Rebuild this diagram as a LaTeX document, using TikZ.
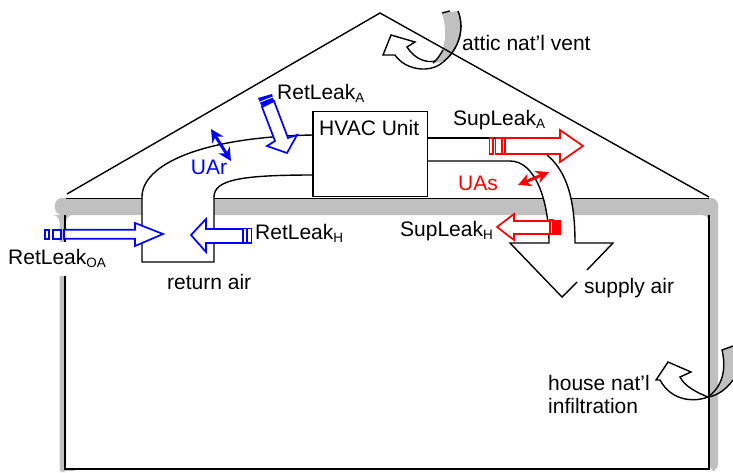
\documentclass[tikz,border=0pt]{standalone}
\usepackage{fontspec}
\setmainfont{Liberation Sans}
\usetikzlibrary{arrows.meta}
\definecolor{wallgray}{RGB}{192,192,192}
\newcommand{\lbl}[1]{\fontsize{21}{24}\selectfont #1}
\newcommand{\subs}[1]{{\fontsize{13.5}{15}\selectfont\raisebox{-3pt}{#1}}}
\tikzset{
  line/.style={draw=black,line width=1.4pt},
  duct/.style={fill=white,draw=none},
  blueleak/.style={draw=blue,fill=white,line width=1.7pt,line join=miter},
  redleak/.style={draw=red,fill=white,line width=1.7pt,line join=miter},
  dblblue/.style={draw=blue,line width=3pt,{Stealth[length=13pt,width=13pt]}-{Stealth[length=13pt,width=13pt]}},
  dblred/.style={draw=red,line width=3pt,{Stealth[length=13pt,width=13pt]}-{Stealth[length=13pt,width=13pt]}},
  lab/.style={anchor=base west,inner sep=0pt,font=\lbl},
}
\begin{document}
\begin{tikzpicture}[x=1pt,y=-1pt]
\useasboundingbox (0,0) rectangle (733,472);
% wall
\fill[wallgray,rounded corners=7pt] (59.5,472) -- (59.5,215) -- (55,215) -- (55,198) -- (718,198) -- (718,471) -- (709,471) -- (709,215) -- (66,215) -- (66,472) -- cycle;
\fill[wallgray] (59.5,465) rectangle (66,471);
\fill[wallgray] (59.5,213) rectangle (66,240);
\fill[wallgray] (66,469) rectangle (75,471);
\draw[line,line width=1pt] (66,198) -- (709,198);
\draw[line] (65,215) -- (65,469) -- (709,469) -- (709,215);
\fill[white] (52,242) rectangle (72,276);
% attic vent
\draw[line,fill=white] (443,58) .. controls (430,66) and (415,60) .. (407,47) -- (415,42) -- (391,35) -- (383,55) -- (395,55) .. controls (405,70) and (430,74) .. (443,62) .. controls (456,52) and (466,32) .. (458,11);
\fill[wallgray] (442,13) .. controls (449,35) and (444,55) .. (433,63) -- (443,62) .. controls (456,52) and (466,32) .. (458,11) -- cycle;
\draw[line] (442,13) -- (450,11);
\draw[line] (443,62) .. controls (456,52) and (466,32) .. (458,11);
\draw[line] (433,63) .. controls (437,60) and (440,55) .. (443,50);
% roof
\draw[line] (67,194) -- (380,13) -- (709,197);
% return duct
\fill[duct] (142,262) -- (142,197) .. controls (142,165) and (200,137) .. (313,135) -- (313,175) .. controls (240,175) and (214,180) .. (214,197) -- (214,262) -- cycle;
\draw[line] (313,135) .. controls (200,137) and (142,165) .. (142,197) -- (142,262) -- (214,262) -- (214,197) .. controls (214,180) and (240,175) .. (313,175);
% supply duct
\fill[duct] (427,138) -- (547,138) -- (547,155) .. controls (565,170) and (575,195) .. (575,243) -- (613,243) -- (562,297) -- (510,243) -- (549,243) .. controls (549,200) and (535,161) .. (510,161) -- (427,161) -- cycle;
\draw[line] (427,138) -- (495,138);
\draw[line] (427,161) -- (510,161) .. controls (535,161) and (549,200) .. (549,243) -- (510,243) -- (562,297) -- (577,282);
\draw[line] (587,270) -- (613,243) -- (575,243) .. controls (575,195) and (565,170) .. (547,155);
% HVAC
\node[draw=black,line width=1.4pt,fill=white,minimum width=114.5pt,minimum height=85pt,inner sep=0pt] (hvac) at (370.3,154.2) {};
\node[lab] (hvactxt) at (319,135.5) {HVAC Unit};
% RetLeak OA
\draw[blueleak] (64,229.7) -- (135,229.7) -- (135,223) -- (163,234) -- (135,246) -- (135,238.7) -- (64,238.7) -- cycle;
\draw[blueleak] (45,230) rectangle (49,239);
\draw[blueleak] (53,230) rectangle (61,239);
% RetLeak H
\draw[blueleak] (243,229) -- (206,229) -- (206,219) -- (191,235) -- (206,252) -- (206,243) -- (243,243) -- cycle;
\draw[blueleak] (243,228.5) rectangle (247,243);
\draw[blueleak] (247,228.5) rectangle (251.5,243);
% RetLeak A
\draw[blueleak] (262,107) -- (275,141) -- (267,146) -- (287,153) -- (297,135) -- (288,138) -- (274,101) -- cycle;
\fill[blue] (258,98) -- (272,94) -- (274,101) -- (262,107) -- cycle;
\draw[white,line width=.9pt] (260,102) -- (273,97);
% SupLeak A
\draw[redleak] (505,138) -- (560,138) -- (560,130) -- (583,146) -- (560,162) -- (560,154) -- (505,154) -- cycle;
\draw[redleak,line width=1.2pt] (489.5,138) rectangle (493,154);
\draw[redleak,line width=1.2pt] (495.5,138) rectangle (502,154);
\draw[redleak,line width=1.2pt] (502,138) rectangle (505,154);
% SupLeak H
\draw[redleak] (550,221) -- (514,221) -- (514,214) -- (497,227) -- (514,240) -- (514,234) -- (550,234) -- cycle;
\draw[redleak,line width=1.2pt] (550,220) rectangle (553,234);
\fill[red] (554,220) rectangle (561,234.5);
% house infiltration
\fill[wallgray] (722,350) -- (733,346) -- (733,380) .. controls (726,390) and (716,396) .. (708,397) .. controls (718,390) and (728,375) .. (722,350) -- cycle;
\draw[line] (733,346) -- (722,350) .. controls (728,375) and (718,390) .. (708,397);
\draw[line] (733,380) .. controls (726,390) and (716,396) .. (708,397);
\draw[line,fill=white] (708,397) .. controls (695,402) and (672,402) .. (660,380) -- (656,380) -- (668,362) -- (691,372) -- (680,377) .. controls (685,387) and (698,393) .. (708,397);
% heat arrows
\draw[dblblue] (211,129) -- (231,161);
\draw[dblred] (518,185) -- (549,172);
\node[anchor=center,text=blue,inner sep=0pt,font=\lbl] (uar) at (209,167) {UAr};
\node[anchor=center,text=red,inner sep=0pt,font=\lbl] (uas) at (478,183) {UAs};
% labels
\node[lab] (la) at (277,99) {RetLeak\subs{A}};
\node[lab] (lb) at (453,125) {SupLeak\subs{A}};
\node[lab] (lc) at (400,236) {SupLeak\subs{H}};
\node[lab] (ld) at (255,239) {RetLeak\subs{H}};
\node[lab] (le) at (8,264) {RetLeak\subs{OA}};
\node[lab] (lf) at (167,289) {return air};
\node[lab] (lg) at (584,293) {supply air};
\node[lab] (lh) at (462,50) {attic nat’l vent};
\node[lab] (li) at (548,390) {house nat’l};
\node[lab] (lj) at (548,413) {infiltration};
\end{tikzpicture}
\end{document}
